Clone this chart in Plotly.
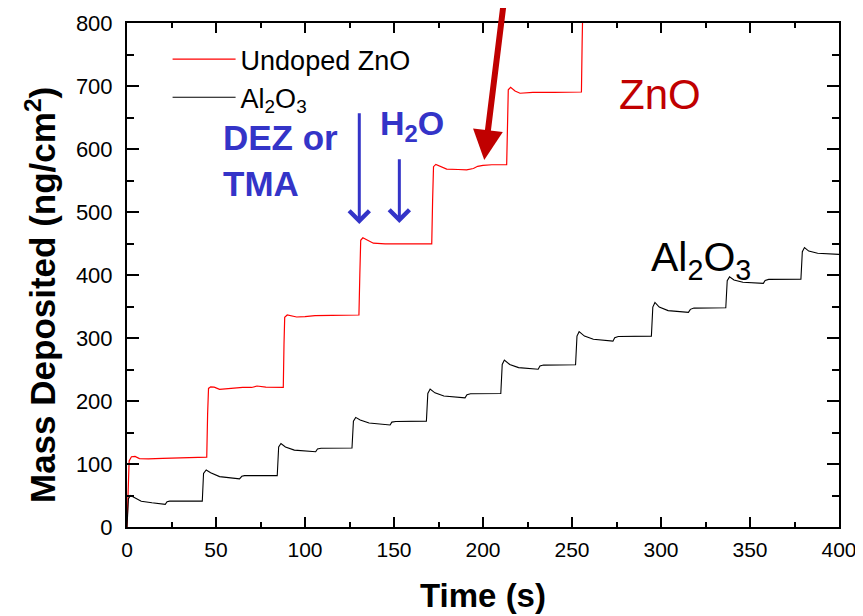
import plotly.graph_objects as go

# ---- Data ----
zno_time = [0, 0.6, 1.2, 2.5, 4.5, 7, 12, 20, 30, 40, 44.8,
            45.3, 45.8, 47, 49, 52, 58, 65, 70, 73, 78, 87.8,
            88.2, 88.6, 90, 92, 95.3, 100, 105.6, 115, 122, 130.3,
            130.8, 131.3, 132.5, 135, 138.4, 145, 160, 171.2,
            171.7, 172.2, 173.5, 176, 179.6, 186, 190.8, 194.6, 197, 200, 205, 213.3,
            213.7, 214.2, 215.5, 218, 220.8, 228, 240, 250, 255.3,
            255.7, 256.1]
zno_mass = [0, 60, 105, 111.5, 112, 108.5, 108, 109, 110, 111, 111,
            180, 220, 222.5, 222, 218.5, 220, 221.5, 221.5, 223.8, 222, 221.5,
            290, 333, 336.5, 335.5, 333.3, 334, 335.5, 336, 336.5, 336.5,
            400, 455, 459, 455, 450.5, 449.5, 449.5, 449.5,
            520, 572, 575.5, 572, 568, 567.5, 567, 569, 572.5, 574, 575, 575,
            650, 694, 698, 692, 688.5, 690, 690, 690.5, 690.5,
            770, 830]

al_time = [0, 0.8, 2, 4, 8, 14, 21.5, 22.5, 24, 42.3,
           43, 44.5, 47, 52, 58, 63.2, 64.5, 66, 84.4,
           85.2, 86.5, 89, 94, 100, 106, 107, 109, 126.4,
           127.2, 128.5, 131, 136, 142, 147.8, 148.8, 151, 168.2,
           169, 170.3, 173, 178, 184, 189.9, 191, 193, 210,
           210.8, 212, 215, 220, 226, 231, 232, 234, 252,
           252.8, 254, 257, 262, 268, 273, 274, 276, 294.6,
           295.4, 296.6, 299, 304, 310, 315.4, 316.5, 318.5, 336.4,
           337.2, 338.5, 341, 346, 352, 357.5, 358.5, 360.5, 378.6,
           379.4, 380.6, 383, 388, 394, 400]
al_mass = [0, 45, 50, 47, 41, 38.5, 36, 40, 41, 41,
           85, 90.5, 86, 80, 78, 76.5, 80.5, 81.5, 81.5,
           127, 132.5, 127, 122, 120.5, 119.5, 124, 125, 125.5,
           168, 174, 170, 165, 163, 162, 166.5, 167.5, 168,
           212, 219, 213, 208, 206, 205, 210, 211.5, 212,
           258, 265, 258, 253, 251.5, 250.5, 255.5, 257, 257.5,
           303, 310, 303, 298, 296, 295, 300.5, 302.5, 303,
           349, 356.5, 349, 343.5, 341.5, 340.7, 345.5, 347.5, 348,
           391, 397, 392, 388.5, 387, 386.7, 391.5, 393, 393.5,
           437, 443.5, 438, 434.5, 433.5, 432.8]

x_ticks = [0, 50, 100, 150, 200, 250, 300, 350, 400]
y_ticks = [0, 100, 200, 300, 400, 500, 600, 700, 800]

FONT = "Arial, Liberation Sans, sans-serif"
BLUE = "#3434C8"
DARKRED = "#C00000"

fig = go.Figure()
fig.add_trace(go.Scatter(x=zno_time, y=zno_mass, mode="lines", name="Undoped ZnO",
                         line=dict(color="#FF0000", width=1.2)))
fig.add_trace(go.Scatter(x=al_time, y=al_mass, mode="lines", name="Al<sub>2</sub>O<sub>3</sub>",
                         line=dict(color="#000000", width=1.1)))

axis_common = dict(showline=True, linecolor="black", linewidth=2, mirror="ticks",
                   ticks="inside", tickwidth=2, tickcolor="black",
                   showgrid=False, zeroline=False, automargin=False)

fig.update_xaxes(range=[0, 400], tickvals=x_ticks, ticklen=10, ticklabelstandoff=3,
                 minor=dict(dtick=25, ticks="inside", ticklen=5, tickwidth=1.5, tickcolor="black"),
                 tickfont=dict(family=FONT, size=21, color="black"),
                 title=dict(text="<b>Time (s)</b>", font=dict(family=FONT, size=33, color="black"),
                            standoff=24),
                 **axis_common)
fig.update_yaxes(range=[0, 800], tickvals=y_ticks, ticklen=12, ticklabelstandoff=8,
                 minor=dict(dtick=50, ticks="inside", ticklen=7, tickwidth=1.5, tickcolor="black"),
                 tickfont=dict(family=FONT, size=22, color="black"),
                 **axis_common)

annotations = [
    # y-axis title (sits slightly below the axis centre in the reference)
    dict(x=-0.121, y=0.46, xref="paper", yref="paper", xanchor="center", yanchor="middle",
         textangle=-90, showarrow=False,
         text="<b>Mass Deposited (ng/cm<sup>2</sup>)</b>",
         font=dict(family=FONT, size=35, color="black")),
    # red arrow
    dict(x=200.7, y=582.5, ax=211.8, ay=836, xref="x", yref="y", axref="x", ayref="y",
         text="", showarrow=True, arrowhead=2, arrowsize=1, arrowwidth=6, arrowcolor=DARKRED),
    # blue arrows
    dict(x=130.5, y=481, ax=130.5, ay=659, xref="x", yref="y", axref="x", ayref="y",
         text="", showarrow=True, arrowhead=4, arrowsize=1.3, arrowwidth=3, arrowcolor=BLUE),
    dict(x=153.0, y=482.5, ax=153.0, ay=586, xref="x", yref="y", axref="x", ayref="y",
         text="", showarrow=True, arrowhead=4, arrowsize=1.3, arrowwidth=3, arrowcolor=BLUE),
    dict(x=53.0, y=652, xref="x", yref="y", xanchor="left", yanchor="top", align="left",
         text="<b>DEZ or<br>TMA</b>", showarrow=False,
         font=dict(family=FONT, size=35, color=BLUE)),
    dict(x=141, y=638, xref="x", yref="y", xanchor="left", yanchor="middle",
         text="<b>H<sub>2</sub>O</b>", showarrow=False,
         font=dict(family=FONT, size=34, color=BLUE)),
    dict(x=275.5, y=687, xref="x", yref="y", xanchor="left", yanchor="middle",
         text="ZnO", showarrow=False, font=dict(family=FONT, size=42, color=DARKRED)),
    dict(x=293.5, y=424, xref="x", yref="y", xanchor="left", yanchor="middle",
         text="Al<sub>2</sub>O<sub>3</sub>", showarrow=False,
         font=dict(family=FONT, size=41, color="black")),
]

# the page body adds an 8 px offset, so the figure is sized to fit the window
fig.update_layout(
    width=855, height=608,
    margin=dict(l=119, r=24, t=15, b=89, autoexpand=False),
    paper_bgcolor="white", plot_bgcolor="white",
    font=dict(family=FONT, color="black"),
    showlegend=True,
    legend=dict(x=0.057, y=0.976, xanchor="left", yanchor="top",
                bgcolor="rgba(0,0,0,0)", font=dict(family=FONT, size=27, color="black"),
                itemwidth=63, tracegroupgap=0),
    annotations=annotations,
)

fig.write_html("out.html")
